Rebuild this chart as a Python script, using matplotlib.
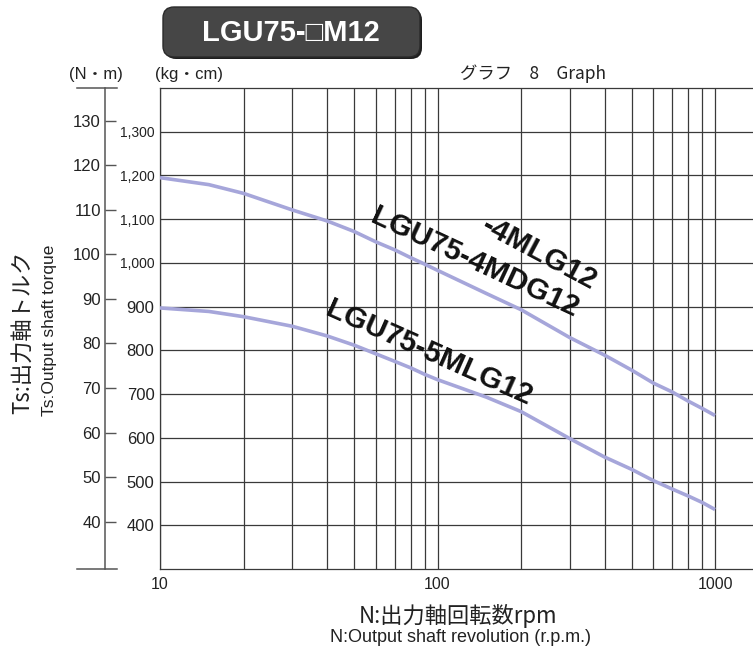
import numpy as np
import matplotlib
matplotlib.use("Agg")
import matplotlib.pyplot as plt
from matplotlib.patches import FancyBboxPatch
from matplotlib.lines import Line2D
from matplotlib.transforms import IdentityTransform

# ---------------- data ----------------
rpm = [10, 15, 20, 30, 40, 50, 60, 70, 80, 90, 100, 150, 200, 300, 400, 500, 600, 700, 800, 900, 1000]
torque_4M = [1195, 1179, 1159, 1121, 1096, 1072, 1048, 1030, 1012, 997, 983, 930, 893, 829, 789, 755, 725, 705, 684, 667, 651]
torque_5M = [897, 889, 877, 855, 833, 812, 792, 775, 760, 745, 733, 693, 660, 598, 556, 528, 502, 483, 467, 452, 436]

x_ticks = [10, 100, 1000]
x_tick_labels = ["10", "100", "1000"]
kgcm_ticks = [400, 500, 600, 700, 800, 900, 1000, 1100, 1200, 1300]
kgcm_labels = ["400", "500", "600", "700", "800", "900", "1,000", "1,100", "1,200", "1,300"]
nm_ticks = [40, 50, 60, 70, 80, 90, 100, 110, 120, 130]
NM_TO_KGCM = 10.197

title = "LGU75-\u25a1M12"
curve_labels = ["-4MLG12", "LGU75-4MDG12", "LGU75-5MLG12"]

# ---------------- figure ----------------
W, H = 753, 652
fig = plt.figure(figsize=(W / 100, H / 100), dpi=100)
LAT = ["Liberation Sans", "Noto Sans CJK JP", "DejaVu Sans"]
JP = ["Noto Sans CJK JP", "DejaVu Sans"]
TXT = "#222222"


def fp(x, y):
    return x / W, 1 - y / H


ax_l, ax_r, ax_t, ax_b = 160, 753, 88, 569
ax = fig.add_axes([ax_l / W, 1 - ax_b / H, (ax_r - ax_l) / W, (ax_b - ax_t) / H])
ax.set_xscale("log")
ax.set_xlim(10, 1370)
ax.set_ylim(300, 1400)

grid_c = "#3a3a3a"
ax.set_xticks(x_ticks)
ax.set_xticklabels(x_tick_labels, family=LAT, fontsize=11.5, color=TXT)
ax.set_xticks([v * d for d in (10, 100) for v in range(2, 10)], minor=True)
ax.xaxis.set_minor_formatter(matplotlib.ticker.NullFormatter())
ax.set_yticks(kgcm_ticks)
ax.set_yticklabels(kgcm_labels, family=LAT, color=TXT)
for lab in ax.get_yticklabels():
    lab.set_fontsize(10 if "," in lab.get_text() else 12)
ax.tick_params(axis="both", which="both", length=0)
ax.tick_params(axis="y", pad=4)
ax.tick_params(axis="x", pad=6)
ax.grid(True, which="both", axis="x", color=grid_c, lw=0.9)
ax.grid(True, which="major", axis="y", color=grid_c, lw=0.9)
for s in ("left", "bottom", "top"):
    ax.spines[s].set_color(grid_c)
    ax.spines[s].set_linewidth(0.9)
ax.spines["right"].set_visible(False)
ax.set_axisbelow(True)

curve_c = "#a6a6da"
ax.plot(rpm, torque_4M, color=curve_c, lw=2.6, solid_capstyle="butt", solid_joinstyle="round", zorder=3)
ax.plot(rpm, torque_5M, color=curve_c, lw=2.6, solid_capstyle="butt", solid_joinstyle="round", zorder=3)

# curve labels
lab_kw = dict(family=["Liberation Sans", "DejaVu Sans"], fontweight="bold", fontsize=21.5,
              color="#111111", ha="center", va="center", rotation_mode="anchor", zorder=4)
ax.text(232, 1022, curve_labels[0], rotation=-28, **lab_kw)
ax.text(136, 1000, curve_labels[1], rotation=-25, **lab_kw)
ax.text(93, 795, curve_labels[2], rotation=-24, **lab_kw)

# secondary N·m axis
sec = ax.secondary_yaxis(-(ax_l - 105) / (ax_r - ax_l),
                         functions=(lambda k: k / NM_TO_KGCM, lambda n: n * NM_TO_KGCM))
sec.set_yticks(nm_ticks)
sec.set_yticklabels([str(v) for v in nm_ticks], family=LAT, fontsize=12, color=TXT)
sec.tick_params(axis="y", direction="in", length=8, width=1, color="#555555", pad=3)
sec.spines["left"].set_color("#555555")
sec.spines["left"].set_linewidth(1.1)

# caps of the N·m axis
for yy in (ax_t, ax_b):
    fig.add_artist(Line2D([77 / W, 117 / W], [1 - yy / H] * 2, transform=fig.transFigure,
                          color="#555555", lw=1.1))

# header texts
fig.text(*fp(96, 74), "(N\u30fbm)", family=LAT, fontsize=12, color=TXT, ha="center", va="center")
fig.text(*fp(155, 74), "(kg\u30fbcm)", family=LAT, fontsize=12, color=TXT, ha="left", va="center")
fig.text(*fp(533, 74), "グラフ　8　Graph", family=JP, fontsize=12.5, color=TXT, ha="center", va="center")

# axis titles
fig.text(*fp(23, 332), "Ts:出力軸トルク", family=JP, fontsize=16, color=TXT, rotation=90,
         ha="center", va="center")
fig.text(*fp(50, 330), "Ts:Output shaft torque", family=LAT, fontsize=12.5, color=TXT, rotation=90,
         ha="center", va="center")
fig.text(*fp(458, 616), "N:出力軸回転数rpm", family=JP, fontsize=16, color=TXT, ha="center", va="center")
fig.text(*fp(461, 638), "N:Output shaft revolution (r.p.m.)", family=LAT, fontsize=13, color=TXT,
         ha="center", va="center")

# title box
shadow = FancyBboxPatch((165, H - 59), 257, 50, boxstyle="round,pad=0,rounding_size=11",
                        transform=IdentityTransform(), facecolor="#1e1e1e", edgecolor="none")
box = FancyBboxPatch((163, H - 57), 257, 50, boxstyle="round,pad=0,rounding_size=11",
                     transform=IdentityTransform(), facecolor="#464646", edgecolor="#2a2a2a", lw=1)
fig.add_artist(shadow)
fig.add_artist(box)
fig.text(*fp(291, 33), title, family=["Liberation Sans", "DejaVu Sans"], fontweight="bold",
         fontsize=21, color="white", ha="center", va="center")

fig.savefig("out.png", dpi=100)
